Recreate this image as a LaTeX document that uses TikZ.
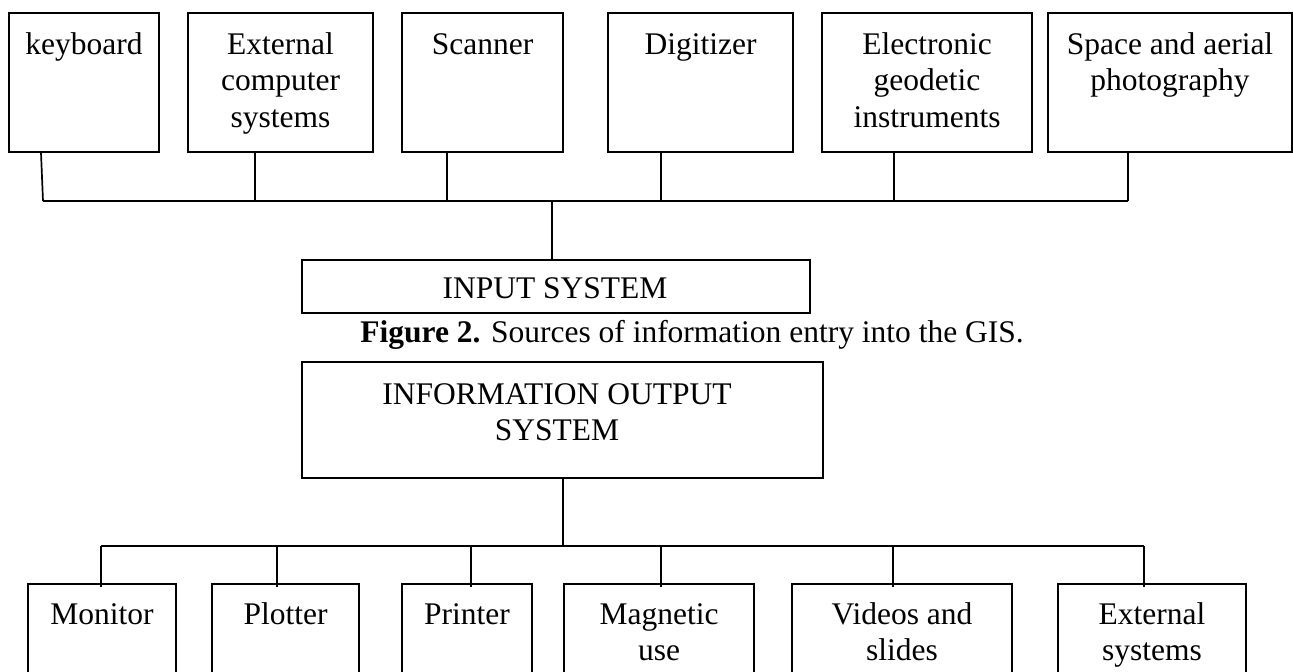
\documentclass[tikz,border=0pt]{standalone}
\usepackage{fontspec}
\setmainfont{Liberation Serif}
\usetikzlibrary{calc}
\tikzset{
  box/.style={draw, line width=0.7pt, inner sep=0pt},
  % text nodes are placed by the baseline of their last line
  txt/.style={align=center, inner sep=0pt, anchor=base,
              font=\fontsize{15.75}{18.25}\selectfont},
  wire/.style={line width=0.85pt},
}
\begin{document}
\begin{tikzpicture}[x=0.5pt,y=-0.5pt]
\clip (0,0) rectangle (1293,671);

% ---------- input sources ----------
\node[box, minimum width=75pt,   minimum height=69.5pt] (kb)    at (84,82.5)   {};
\node[box, minimum width=92.5pt, minimum height=69.5pt] (ecs)   at (280.5,82.5) {};
\node[box, minimum width=80.5pt, minimum height=69.5pt] (scan)  at (482.5,82.5) {};
\node[box, minimum width=92.5pt, minimum height=69.5pt] (dig)   at (700.5,82.5) {};
\node[box, minimum width=105pt,  minimum height=69.5pt] (geo)   at (927,82.5)   {};
\node[box, minimum width=122pt,  minimum height=69.5pt] (photo) at (1170,82.5)  {};

\node[txt] (kbT)    at (84,54)     {keyboard};
\node[txt] (ecsT)   at (280.5,127) {External\\computer\\systems};
\node[txt] (scanT)  at (482.5,54)  {Scanner};
\node[txt] (digT)   at (700.5,54)  {Digitizer};
\node[txt] (geoT)   at (927,127)   {Electronic\\geodetic\\instruments};
\node[txt] (photoT) at (1170,90.5) {Space and aerial\\photography};

% input bus
\coordinate (t1) at (43,201);
\coordinate (t2) at (255,201);
\coordinate (t3) at (447,201);
\coordinate (t4) at (661,201);
\coordinate (t5) at (894,201);
\coordinate (t6) at (1128,201);
\coordinate (tj) at (552,201);

\draw[wire] ($(kb.south -| t1)+(-2,0)$) -- (t1);
\draw[wire] (ecs.south -| t2)   -- (t2);
\draw[wire] (scan.south -| t3)  -- (t3);
\draw[wire] (dig.south -| t4)   -- (t4);
\draw[wire] (geo.south -| t5)   -- (t5);
\draw[wire] (photo.south -| t6) -- (t6);
\draw[wire] (t1) -- (t6);

% ---------- input system ----------
\node[box, minimum width=254pt, minimum height=26.5pt] (in) at (556,286.5) {};
\node[txt] (inT) at (555,298) {INPUT SYSTEM};
\draw[wire] (tj) -- (in.north -| tj);

% caption
\node[txt, anchor=base west] (cap) at (360,342)
  {\textbf{Figure 2.} Sources of information entry into the GIS.};

% ---------- output system ----------
\node[box, minimum width=260.5pt, minimum height=58pt] (out) at (562.5,420) {};
\node[txt] (outT) at (557,440.5) {INFORMATION OUTPUT\\SYSTEM};

\coordinate (bj) at (563,546);
\draw[wire] (out.south -| bj) -- (bj);

% output devices
\node[box, minimum width=74pt,   minimum height=68pt] (mon)  at (102,652)   {};
\node[box, minimum width=73.5pt, minimum height=68pt] (plt)  at (285.5,652) {};
\node[box, minimum width=65pt,   minimum height=68pt] (prn)  at (467,652)   {};
\node[box, minimum width=95pt,   minimum height=68pt] (mag)  at (659,652)   {};
\node[box, minimum width=110pt,  minimum height=68pt] (vid)  at (902,652)   {};
\node[box, minimum width=94pt,   minimum height=68pt] (exts) at (1152,652)  {};

\node[txt] (monT)  at (102,624)   {Monitor};
\node[txt] (pltT)  at (285.5,624) {Plotter};
\node[txt] (prnT)  at (467,624)   {Printer};
\node[txt] (magT)  at (659,660.5) {Magnetic\\use};
\node[txt] (vidT)  at (902,660.5) {Videos and\\slides};
\node[txt] (extsT) at (1152,660.5) {External\\systems};

% output bus
\coordinate (b1) at (101,546);
\coordinate (b2) at (277,546);
\coordinate (b3) at (471,546);
\coordinate (b4) at (661,546);
\coordinate (b5) at (893,546);
\coordinate (b6) at (1144,546);

\draw[wire] (b1) -- (b6);
\draw[wire] (b1) -- ($(mon.north -| b1)+(0,4)$);
\draw[wire] (b2) -- ($(plt.north -| b2)+(0,4)$);
\draw[wire] (b3) -- ($(prn.north -| b3)+(0,4)$);
\draw[wire] (b4) -- ($(mag.north -| b4)+(0,4)$);
\draw[wire] (b5) -- ($(vid.north -| b5)+(0,4)$);
\draw[wire] (b6) -- ($(exts.north -| b6)+(0,4)$);
\end{tikzpicture}
\end{document}
